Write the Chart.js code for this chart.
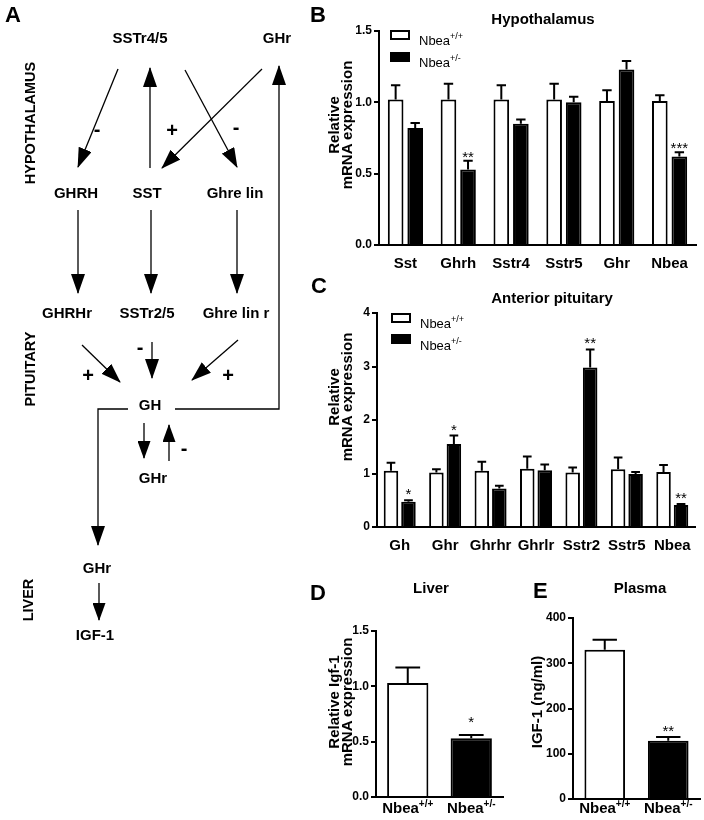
<!DOCTYPE html>
<html>
<head>
<meta charset="utf-8">
<script src="https://cdn.jsdelivr.net/npm/chart.js@4.4.0/dist/chart.umd.min.js"></script>
<style>
  body { margin: 0; background: #fff; }
  #page { position: relative; width: 704px; height: 820px; overflow: hidden; background: #fff; }
  canvas { position: absolute; }
  #ov { position: absolute; left: 0; top: 0; pointer-events: none; }
</style>
</head>
<body>
<div id="page">
  <canvas id="cB" width="404" height="270" style="left:300px;top:0px"></canvas>
  <canvas id="cC" width="404" height="275" style="left:300px;top:280px"></canvas>
  <canvas id="cD" width="210" height="260" style="left:300px;top:560px"></canvas>
  <canvas id="cE" width="194" height="260" style="left:510px;top:560px"></canvas>

  <svg id="ov" width="704" height="820" font-family="'Liberation Sans', Arial, sans-serif" font-weight="bold">
    <defs>
      <marker id="ah" viewBox="0 0 20 14" refX="19" refY="7" markerWidth="20" markerHeight="14" markerUnits="userSpaceOnUse" orient="auto">
        <path d="M0,0L20,7L0,14z"/>
      </marker>
      <marker id="as" viewBox="0 0 18 13" refX="17" refY="6.5" markerWidth="18" markerHeight="13" markerUnits="userSpaceOnUse" orient="auto">
        <path d="M0,0L18,6.5L0,13z"/>
      </marker>
    </defs>

    <!-- panel A : feedback diagram -->
    <text x="5" y="22" font-size="22">A</text>
    <g font-size="14.5" transform="">
      <text x="35" y="123" text-anchor="middle" transform="rotate(-90 35 123)">HYPOTHALAMUS</text>
      <text x="35" y="369" text-anchor="middle" transform="rotate(-90 35 369)">PITUITARY</text>
      <text x="33" y="600" text-anchor="middle" transform="rotate(-90 33 600)">LIVER</text>
    </g>
    <g font-size="15" text-anchor="middle">
      <text x="140" y="43">SSTr4/5</text>
      <text x="277" y="43">GHr</text>
      <text x="76" y="198">GHRH</text>
      <text x="147" y="198">SST</text>
      <text x="235" y="198">Ghre lin</text>
      <text x="67" y="318">GHRHr</text>
      <text x="147" y="318">SSTr2/5</text>
      <text x="236" y="318">Ghre lin r</text>
      <text x="150" y="410">GH</text>
      <text x="153" y="483">GHr</text>
      <text x="97" y="573">GHr</text>
      <text x="95" y="640">IGF-1</text>
    </g>
    <g font-size="20" text-anchor="middle">
      <text x="97" y="136">-</text>
      <text x="172" y="137">+</text>
      <text x="236" y="134">-</text>
      <text x="88" y="382">+</text>
      <text x="140" y="354">-</text>
      <text x="228" y="382">+</text>
      <text x="184" y="455">-</text>
    </g>
    <g stroke="#000" stroke-width="1.3" fill="none">
      <line x1="118" y1="69" x2="78" y2="167" marker-end="url(#ah)"/>
      <line x1="150" y1="168" x2="150" y2="68" marker-end="url(#ah)"/>
      <line x1="185" y1="70" x2="237" y2="167" marker-end="url(#ah)"/>
      <line x1="262" y1="69" x2="162" y2="168" marker-end="url(#ah)"/>
      <line x1="78" y1="210" x2="78" y2="293" marker-end="url(#ah)"/>
      <line x1="151" y1="210" x2="151" y2="293" marker-end="url(#ah)"/>
      <line x1="237" y1="210" x2="237" y2="293" marker-end="url(#ah)"/>
      <line x1="82" y1="345" x2="120" y2="382" marker-end="url(#ah)"/>
      <line x1="152" y1="342" x2="152" y2="378" marker-end="url(#ah)"/>
      <line x1="238" y1="340" x2="192" y2="380" marker-end="url(#ah)"/>
      <polyline points="175,409 279,409 279,66" marker-end="url(#ah)"/>
      <polyline points="128,409 98,409 98,545" marker-end="url(#ah)"/>
      <line x1="144" y1="423" x2="144" y2="458" marker-end="url(#as)"/>
      <line x1="169" y1="461" x2="169" y2="425" marker-end="url(#as)"/>
      <line x1="99" y1="583" x2="99" y2="620" marker-end="url(#as)"/>
    </g>

    <!-- panel letters -->
    <g font-size="22">
      <text x="310" y="22">B</text>
      <text x="311" y="293">C</text>
      <text x="310" y="600">D</text>
      <text x="533" y="598">E</text>
    </g>

    <!-- titles -->
    <g font-size="15" text-anchor="middle">
      <text x="543" y="24">Hypothalamus</text>
      <text x="552" y="303">Anterior pituitary</text>
      <text x="431" y="593">Liver</text>
      <text x="640" y="593">Plasma</text>
    </g>

    <!-- axis titles -->
    <g font-size="15" text-anchor="middle">
      <text x="339" y="125" transform="rotate(-90 339 125)">Relative</text>
      <text x="352" y="125" transform="rotate(-90 352 125)">mRNA expression</text>
      <text x="339" y="397" transform="rotate(-90 339 397)">Relative</text>
      <text x="352" y="397" transform="rotate(-90 352 397)">mRNA expression</text>
      <text x="339" y="702" transform="rotate(-90 339 702)">Relative Igf-1</text>
      <text x="352" y="702" transform="rotate(-90 352 702)">mRNA expression</text>
      <text x="542" y="702" transform="rotate(-90 542 702)">IGF-1 (ng/ml)</text>
    </g>

    <!-- legends -->
    <g font-weight="normal" font-size="13">
      <rect x="391" y="31" width="18" height="8" fill="#fff" stroke="#000" stroke-width="2"/>
      <rect x="390" y="52" width="20" height="10" fill="#000"/>
      <text x="419" y="45">Nbea<tspan font-size="9" dy="-6">+/+</tspan></text>
      <text x="419" y="67">Nbea<tspan font-size="9" dy="-6">+/-</tspan></text>
      <rect x="392" y="314" width="18" height="8" fill="#fff" stroke="#000" stroke-width="2"/>
      <rect x="391" y="334" width="20" height="10" fill="#000"/>
      <text x="420" y="328">Nbea<tspan font-size="9" dy="-6">+/+</tspan></text>
      <text x="420" y="350">Nbea<tspan font-size="9" dy="-6">+/-</tspan></text>
    </g>
  </svg>
</div>

<script>
// B - hypothalamus
var catsB = ['Sst', 'Ghrh', 'Sstr4', 'Sstr5', 'Ghr', 'Nbea'];
var wtB = [1.02, 1.02, 1.02, 1.02, 1.01, 1.01];
var wtSemB = [0.10, 0.11, 0.10, 0.11, 0.075, 0.04];
var hetB = [0.82, 0.53, 0.85, 1.00, 1.23, 0.62];
var hetSemB = [0.035, 0.06, 0.03, 0.04, 0.06, 0.03];
var starsB = ['', '**', '', '', '', '***'];
var ticksB = [0, 0.5, 1.0, 1.5];

// C - anterior pituitary
var catsC = ['Gh', 'Ghr', 'Ghrhr', 'Ghrlr', 'Sstr2', 'Sstr5', 'Nbea'];
var wtC = [1.05, 1.02, 1.05, 1.09, 1.02, 1.08, 1.03];
var wtSemC = [0.15, 0.06, 0.17, 0.23, 0.09, 0.22, 0.13];
var hetC = [0.47, 1.55, 0.72, 1.06, 2.98, 0.99, 0.41];
var hetSemC = [0.03, 0.16, 0.05, 0.11, 0.34, 0.04, 0.02];
var starsC = ['*', '*', '', '', '**', '', '**'];
var ticksC = [0, 1, 2, 3, 4];

// D - liver, E - plasma
var genoBase = 'Nbea';
var genoSup = ['+/+', '+/-'];
var liverD = [1.03, 0.53];
var liverSemD = [0.14, 0.03];
var starsD = ['', '*'];
var ticksD = [0, 0.5, 1.0, 1.5];
var plasmaE = [330, 129];
var plasmaSemE = [22, 8];
var starsE = ['', '**'];
var ticksE = [0, 100, 200, 300, 400];

var FONT = '"Liberation Sans", Arial, sans-serif';
Chart.defaults.font.family = FONT;
Chart.defaults.color = '#000';

// one-sided error bars + significance stars
var errBars = {
  id: 'errBars',
  afterDatasetsDraw: function (chart, args, opts) {
    var ctx = chart.ctx, y = chart.scales.y;
    chart.data.datasets.forEach(function (ds, i) {
      var meta = chart.getDatasetMeta(i);
      meta.data.forEach(function (bar, j) {
        var top = y.getPixelForValue(ds.data[j] + ds.sem[j]);
        var half = bar.width * 0.3;
        ctx.save();
        ctx.strokeStyle = '#000';
        ctx.lineWidth = 2;
        ctx.beginPath();
        ctx.moveTo(bar.x, bar.y);
        ctx.lineTo(bar.x, top);
        ctx.moveTo(bar.x - half, top);
        ctx.lineTo(bar.x + half, top);
        ctx.stroke();
        if (ds.stars && ds.stars[j]) {
          ctx.fillStyle = '#000';
          ctx.font = '15px ' + FONT;
          ctx.textAlign = 'center';
          ctx.textBaseline = 'alphabetic';
          ctx.fillText(ds.stars[j], bar.x, top + opts.starOff);
        }
        ctx.restore();
      });
    });
  }
};

// x labels with superscript genotype
var supLabels = {
  id: 'supLabels',
  afterDraw: function (chart, args, opts) {
    if (!opts.sups) return;
    var ctx = chart.ctx, x = chart.scales.x;
    ctx.save();
    ctx.fillStyle = '#000';
    ctx.textBaseline = 'alphabetic';
    ctx.textAlign = 'left';
    opts.sups.forEach(function (sup, i) {
      var cx = x.getPixelForValue(i);
      var by = chart.chartArea.bottom + opts.dy;
      ctx.font = 'bold 15px ' + FONT;
      var w1 = ctx.measureText(opts.base).width;
      ctx.font = 'bold 10px ' + FONT;
      var w2 = ctx.measureText(sup).width;
      var x0 = cx - (w1 + w2) / 2;
      ctx.font = 'bold 15px ' + FONT;
      ctx.fillText(opts.base, x0, by);
      ctx.font = 'bold 10px ' + FONT;
      ctx.fillText(sup, x0 + w1, by - 6);
    });
    ctx.restore();
  }
};

function barChart(id, area, labels, datasets, ticks, fmt, extra) {
  var el = document.getElementById(id);
  var W = el.width, H = el.height;
  return new Chart(el, {
    type: 'bar',
    data: { labels: labels, datasets: datasets },
    options: {
      responsive: false,
      animation: false,
      devicePixelRatio: 1,
      layout: { padding: { left: 0, top: area.top, right: W - area.right, bottom: 0 } },
      plugins: {
        legend: { display: false },
        tooltip: { enabled: false },
        errBars: { starOff: extra.starOff },
        supLabels: extra.sup || {}
      },
      scales: {
        x: {
          grid: { display: false },
          border: { display: true, color: '#000', width: 2 },
          ticks: {
            display: !extra.sup,
            color: '#000',
            font: { size: 15, weight: 'bold' },
            padding: 2,
            autoSkip: false,
            maxRotation: 0
          },
          afterFit: function (s) { s.height = H - area.bottom; }
        },
        y: {
          min: ticks[0],
          max: ticks[ticks.length - 1],
          afterBuildTicks: function (s) { s.ticks = ticks.map(function (v) { return { value: v }; }); },
          grid: { drawOnChartArea: false, drawTicks: true, tickLength: 5, color: '#000', lineWidth: 2 },
          border: { display: true, color: '#000', width: 2 },
          ticks: {
            color: '#000',
            font: { size: 12, weight: 'bold' },
            padding: 2,
            callback: fmt
          },
          afterFit: function (s) { s.width = area.left; }
        }
      }
    },
    plugins: [errBars, supLabels]
  });
}

function oneDec(v) { return v.toFixed(1); }
function plain(v) { return String(v); }

barChart('cB', { left: 79, top: 31, right: 396, bottom: 245 }, catsB, [
  { data: wtB, sem: wtSemB, backgroundColor: '#fff', borderColor: '#000', borderWidth: 2,
    barPercentage: 0.8, categoryPercentage: 0.74 },
  { data: hetB, sem: hetSemB, stars: starsB, backgroundColor: '#000', borderColor: '#000', borderWidth: 2,
    barPercentage: 0.8, categoryPercentage: 0.74 }
], ticksB, oneDec, { starOff: 1 });

barChart('cC', { left: 77, top: 33, right: 395, bottom: 247 }, catsC, [
  { data: wtC, sem: wtSemC, backgroundColor: '#fff', borderColor: '#000', borderWidth: 2,
    barPercentage: 0.83, categoryPercentage: 0.77 },
  { data: hetC, sem: hetSemC, stars: starsC, backgroundColor: '#000', borderColor: '#000', borderWidth: 2,
    barPercentage: 0.83, categoryPercentage: 0.77 }
], ticksC, plain, { starOff: -1 });

barChart('cD', { left: 76, top: 71, right: 203, bottom: 237 }, genoSup, [
  { data: liverD, sem: liverSemD, stars: starsD, backgroundColor: ['#fff', '#000'], borderColor: '#000', borderWidth: 2,
    barPercentage: 0.65, categoryPercentage: 1 }
], ticksD, oneDec, { starOff: -8, sup: { base: genoBase, sups: genoSup, dy: 16 } });

barChart('cE', { left: 63, top: 58, right: 190, bottom: 239 }, genoSup, [
  { data: plasmaE, sem: plasmaSemE, stars: starsE, backgroundColor: ['#fff', '#000'], borderColor: '#000', borderWidth: 2,
    barPercentage: 0.64, categoryPercentage: 1 }
], ticksE, plain, { starOff: -1, sup: { base: genoBase, sups: genoSup, dy: 14 } });
</script>
</body>
</html>
